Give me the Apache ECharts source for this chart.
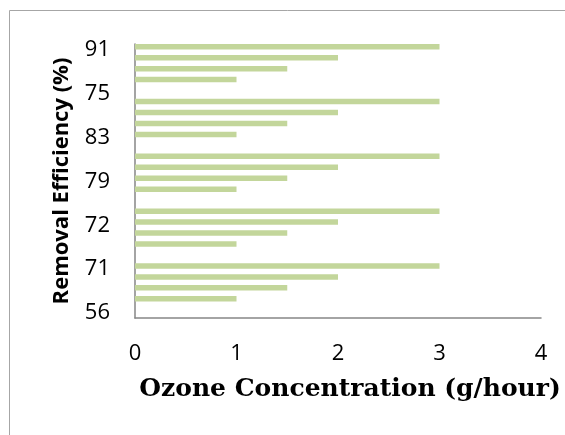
<!DOCTYPE html>
<html>
<head>
<meta charset="utf-8">
<script src="https://cdn.jsdelivr.net/npm/echarts@6/dist/echarts.min.js"></script>
<style>
  html, body { margin: 0; padding: 0; background: #fff; }
  #chart { width: 565px; height: 435px; }
</style>
</head>
<body>
<div id="chart"></div>
<script>
// y-axis labels, bottom to top
const efficiencyLabels = ['56', '71', '72', '79', '83', '75', '91'];

// bar rows, bottom to top ('-' = empty row between groups)
const ozoneValues = [
  '-', 1, 1.5, 2, 3,
  '-', 1, 1.5, 2, 3,
  '-', 1, 1.5, 2, 3,
  '-', 1, 1.5, 2, 3,
  '-', 1, 1.5, 2, 3
];
const rowNames = ozoneValues.map((v, i) => 'row' + (i + 1));

const xTicks = { min: 0, max: 4, interval: 1 };

const chart = echarts.init(document.getElementById('chart'));

const option = {
  animation: false,
  graphic: [{
    type: 'rect',
    shape: { x: 9.5, y: 10.5, width: 700, height: 600 },
    style: { fill: 'none', stroke: '#a6a6a6', lineWidth: 1 },
    silent: true
  }],
  grid: [
    { left: 135, right: 24, top: 44, bottom: 117 },
    { left: 135, right: 24, top: 50, bottom: 122 }
  ],
  xAxis: [
    {
      gridIndex: 0,
      type: 'value',
      min: xTicks.min,
      max: xTicks.max,
      interval: xTicks.interval,
      splitLine: { show: false },
      axisTick: { show: false },
      axisLine: { show: true, lineStyle: { color: '#868686', width: 1.5 } },
      axisLabel: { fontSize: 22, color: '#000', margin: 25, fontFamily: 'Open Sans' },
      name: 'Ozone Concentration (g/hour)',
      nameLocation: 'middle',
      nameGap: 59,
      nameTextStyle: {
        fontSize: 25, fontWeight: 'bold', color: '#000',
        fontFamily: 'DejaVu Serif', padding: [0, 0, 0, 24]
      }
    },
    { gridIndex: 1, type: 'value', show: false, min: 0, max: 1 }
  ],
  yAxis: [
    {
      gridIndex: 0,
      type: 'category',
      data: rowNames,
      axisTick: { show: false },
      axisLabel: { show: false },
      axisLine: { show: true, lineStyle: { color: '#868686', width: 1.5 } },
      name: 'Removal Efficiency (%)',
      nameLocation: 'middle',
      nameGap: 62,
      nameTextStyle: { fontSize: 22, fontWeight: 'bold', color: '#000', fontFamily: 'Open Sans' }
    },
    {
      gridIndex: 1,
      type: 'category',
      data: efficiencyLabels,
      boundaryGap: false,
      axisLine: { show: false },
      axisTick: { show: false },
      axisLabel: { fontSize: 22, color: '#000', margin: 25, fontFamily: 'Open Sans' }
    }
  ],
  series: [
    {
      type: 'bar',
      xAxisIndex: 0,
      yAxisIndex: 0,
      data: ozoneValues,
      barWidth: 5.5,
      barGap: '0%',
      itemStyle: { color: '#c3d69b' }
    },
    {
      // empty companion series so the bars sit in the upper half of each row
      type: 'bar',
      xAxisIndex: 0,
      yAxisIndex: 0,
      data: ozoneValues.map(() => '-'),
      barWidth: 5.5
    }
  ]
};

chart.setOption(option);
</script>
</body>
</html>
